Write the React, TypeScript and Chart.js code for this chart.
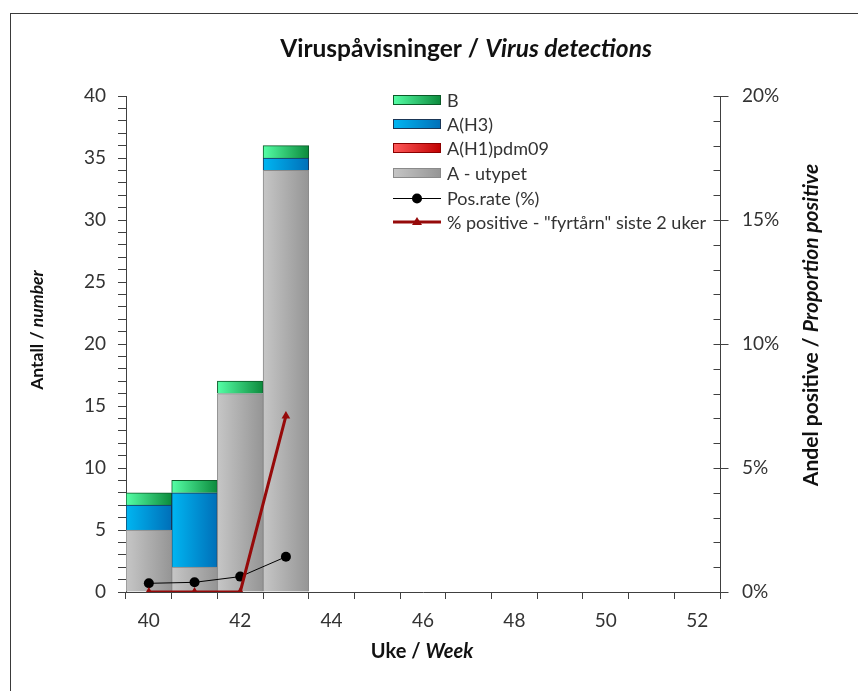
import React, { useEffect, useRef } from 'react';
import { Chart, registerables } from 'chart.js';

Chart.register(...registerables);

// ---- data ----
const weeks = ['40', '41', '42', '43', '44', '45', '46', '47', '48', '49', '50', '51', '52'];
const aUtypet = [5, 2, 16, 34, null, null, null, null, null, null, null, null, null];
const aH1pdm09 = [0, 0, 0, 0, null, null, null, null, null, null, null, null, null];
const aH3 = [2, 6, 0, 1, null, null, null, null, null, null, null, null, null];
const bVals = [1, 1, 1, 1, null, null, null, null, null, null, null, null, null];
const posRate = [0.35, 0.39, 0.62, 1.42, null, null, null, null, null, null, null, null, null];
const fyrtarn = [0, 0, 0, 7.1, null, null, null, null, null, null, null, null, null];

const seriesLabels = ['A - utypet', 'A(H1)pdm09', 'A(H3)', 'B', 'Pos.rate (%)', '% positive - "fyrtårn" siste 2 uker'];
const legendOrder = [3, 2, 1, 0, 4, 5];

const titleParts = [
  { text: 'Viruspåvisninger / ', italic: false },
  { text: 'Virus detections', italic: true },
];
const xTitleParts = [
  { text: 'Uke / ', italic: false },
  { text: 'Week', italic: true },
];
const yTitleParts = [
  { text: 'Antall / ', italic: false },
  { text: 'number', italic: true },
];
const y1TitleParts = [
  { text: 'Andel positive / ', italic: false },
  { text: 'Proportion positive', italic: true },
];

// ---- styles ----
const FONT = 'Lato, "Noto Sans", sans-serif';
const AXIS_COLOR = '#404040';
const TEXT_COLOR = '#333333';
const barStyles = [
  { light: '#c6c6c6', dark: '#959595', border: '#8a8a8a' },
  { light: '#ff5a5a', dark: '#c00000', border: '#8b0000' },
  { light: '#00b6f2', dark: '#006fb8', border: '#1a3656' },
  { light: '#55ffa6', dark: '#0c8a3c', border: '#0b5a28' },
];
const LINE_BLACK = '#000000';
const LINE_RED = '#960a0a';

function gradFor(light: string, dark: string) {
  return (ctx: any) => {
    const chart = ctx.chart;
    const xs = chart.scales && chart.scales.x;
    if (!xs || ctx.dataIndex == null || !isFinite(xs.left)) return dark;
    const c = xs.getPixelForValue(ctx.dataIndex);
    const w = (xs.right - xs.left) / weeks.length;
    const g = chart.ctx.createLinearGradient(c - w / 2, 0, c + w / 2, 0);
    g.addColorStop(0, light);
    g.addColorStop(1, dark);
    return g;
  };
}

function drawMixed(ctx: CanvasRenderingContext2D, parts: { text: string; italic: boolean }[], cx: number, y: number, size: number) {
  const fonts = parts.map((p) => `${p.italic ? 'italic ' : ''}bold ${size}px ${FONT}`);
  let total = 0;
  const widths = parts.map((p, i) => {
    ctx.font = fonts[i];
    const w = ctx.measureText(p.text).width;
    total += w;
    return w;
  });
  let x = cx - total / 2;
  ctx.textAlign = 'left';
  ctx.textBaseline = 'alphabetic';
  parts.forEach((p, i) => {
    ctx.font = fonts[i];
    ctx.fillText(p.text, x, y);
    x += widths[i];
  });
}

const decorPlugin = {
  id: 'decor',
  beforeDraw(chart: any) {
    const ctx = chart.ctx;
    ctx.save();
    ctx.fillStyle = '#ffffff';
    ctx.fillRect(0, 0, chart.width, chart.height);
    ctx.strokeStyle = '#3a3a3a';
    ctx.lineWidth = 1;
    ctx.strokeRect(10.5, 13.5, chart.width + 20, chart.height + 20);
    ctx.restore();
  },
  afterDraw(chart: any) {
    const ctx = chart.ctx;
    ctx.save();
    // right axis ticks (minor inside, major crossing)
    const y1 = chart.scales.y1;
    const ax = Math.round(y1.left) + 0.5;
    ctx.strokeStyle = AXIS_COLOR;
    ctx.lineWidth = 1;
    for (let v = 0; v <= 20; v++) {
      const py = Math.round(y1.getPixelForValue(v)) + 0.5;
      ctx.beginPath();
      ctx.moveTo(ax - 7, py);
      ctx.lineTo(v % 5 === 0 ? ax + 8 : ax, py);
      ctx.stroke();
    }

    ctx.fillStyle = '#111111';
    drawMixed(ctx, titleParts, 466, 57, 24.5);
    drawMixed(ctx, xTitleParts, 422, 658, 20);

    ctx.save();
    ctx.translate(43, 330);
    ctx.rotate(-Math.PI / 2);
    drawMixed(ctx, yTitleParts, 0, 0, 17.5);
    ctx.restore();

    ctx.save();
    ctx.translate(818, 325);
    ctx.rotate(-Math.PI / 2);
    drawMixed(ctx, y1TitleParts, 0, 0, 21);
    ctx.restore();

    // legend
    const lx = 393;
    const sw = 48;
    const tx = 447;
    const rowY = [100, 124, 148, 173, 198, 222];
    ctx.font = `18px ${FONT}`;
    ctx.textAlign = 'left';
    ctx.textBaseline = 'middle';
    legendOrder.forEach((di, row) => {
      const y = rowY[row];
      if (di < 4) {
        const st = barStyles[di];
        const g = ctx.createLinearGradient(lx, 0, lx + sw, 0);
        g.addColorStop(0, st.light);
        g.addColorStop(1, st.dark);
        ctx.fillStyle = g;
        ctx.fillRect(lx, y - 5, sw, 10);
        ctx.strokeStyle = st.border;
        ctx.lineWidth = 1;
        ctx.strokeRect(lx + 0.5, y - 4.5, sw - 1, 9);
      } else if (di === 4) {
        ctx.strokeStyle = LINE_BLACK;
        ctx.lineWidth = 1;
        ctx.beginPath();
        ctx.moveTo(lx, y + 0.5);
        ctx.lineTo(lx + sw, y + 0.5);
        ctx.stroke();
        ctx.fillStyle = LINE_BLACK;
        ctx.beginPath();
        ctx.arc(lx + sw / 2, y + 0.5, 5, 0, Math.PI * 2);
        ctx.fill();
      } else {
        ctx.strokeStyle = LINE_RED;
        ctx.lineWidth = 3;
        ctx.beginPath();
        ctx.moveTo(lx, y);
        ctx.lineTo(lx + sw, y);
        ctx.stroke();
        ctx.fillStyle = LINE_RED;
        const cx = lx + sw / 2;
        ctx.beginPath();
        ctx.moveTo(cx, y - 5);
        ctx.lineTo(cx + 5, y + 3);
        ctx.lineTo(cx - 5, y + 3);
        ctx.closePath();
        ctx.fill();
      }
      ctx.fillStyle = TEXT_COLOR;
      ctx.fillText(seriesLabels[di], tx, y + 1);
    });
    ctx.restore();
  },
};

export default function App() {
  const ref = useRef<HTMLCanvasElement | null>(null);

  useEffect(() => {
    if (!ref.current) return;
    const barValues = [aUtypet, aH1pdm09, aH3, bVals];
    const barDatasets = barValues.map((vals, i) => ({
      type: 'bar' as const,
      label: seriesLabels[i],
      data: vals,
      yAxisID: 'y',
      stack: 'virus',
      order: 2,
      backgroundColor: gradFor(barStyles[i].light, barStyles[i].dark),
      borderColor: barStyles[i].border,
      borderWidth: 1,
      barPercentage: 1,
      categoryPercentage: 1,
    }));
    const lineDatasets = [
      {
        type: 'line' as const,
        label: seriesLabels[4],
        data: posRate,
        yAxisID: 'y1',
        order: 1,
        borderColor: LINE_BLACK,
        backgroundColor: LINE_BLACK,
        borderWidth: 1,
        pointRadius: 5,
        pointStyle: 'circle',
        pointBorderWidth: 0,
        tension: 0,
        spanGaps: false,
      },
      {
        type: 'line' as const,
        label: seriesLabels[5],
        data: fyrtarn,
        yAxisID: 'y1',
        order: 0,
        borderColor: LINE_RED,
        backgroundColor: LINE_RED,
        borderWidth: 3,
        pointRadius: 5,
        pointStyle: 'triangle',
        pointBorderWidth: 0,
        tension: 0,
        spanGaps: false,
      },
    ];

    const chart = new Chart(ref.current, {
      type: 'bar',
      data: {
        labels: weeks,
        datasets: [...barDatasets, ...lineDatasets] as any,
      },
      options: {
        responsive: false,
        animation: false,
        events: [],
        devicePixelRatio: 1,
        layout: { padding: { top: 96, left: 0, right: 0, bottom: 0 } },
        plugins: {
          legend: { display: false },
          title: { display: false },
          tooltip: { enabled: false },
        },
        scales: {
          x: {
            stacked: true,
            offset: true,
            afterFit: (s: any) => { s.height = 99; },
            grid: {
              offset: true,
              drawOnChartArea: false,
              drawTicks: true,
              tickLength: 7,
              color: AXIS_COLOR,
            },
            border: { display: true, color: AXIS_COLOR, width: 1 },
            ticks: {
              autoSkip: false,
              maxRotation: 0,
              padding: 10,
              color: TEXT_COLOR,
              font: { family: FONT, size: 19 },
              callback: (_v: any, idx: number) => (Number(weeks[idx]) % 2 === 0 ? weeks[idx] : ''),
            },
          },
          y: {
            position: 'left',
            stacked: true,
            min: 0,
            max: 40,
            afterFit: (s: any) => { s.width = 126; },
            grid: {
              drawOnChartArea: false,
              drawTicks: true,
              tickLength: 8,
              color: AXIS_COLOR,
            },
            border: { display: true, color: AXIS_COLOR, width: 1 },
            ticks: {
              stepSize: 1,
              autoSkip: false,
              padding: 12,
              color: TEXT_COLOR,
              font: { family: FONT, size: 19 },
              callback: (v: any) => (Number(v) % 5 === 0 ? String(v) : ''),
            },
          },
          y1: {
            position: 'right',
            stacked: false,
            min: 0,
            max: 20,
            afterFit: (s: any) => { s.width = 138; },
            grid: {
              drawOnChartArea: false,
              drawTicks: false,
            },
            border: { display: true, color: AXIS_COLOR, width: 1 },
            ticks: {
              stepSize: 1,
              autoSkip: false,
              padding: 22,
              color: TEXT_COLOR,
              font: { family: FONT, size: 19 },
              callback: (v: any) => (Number(v) % 5 === 0 ? `${v}%` : ''),
            },
          },
        },
      } as any,
      plugins: [decorPlugin],
    });
    return () => chart.destroy();
  }, []);

  return (
    <div style={{ position: 'fixed', left: 0, top: 0, width: 858, height: 691, background: '#fff' }}>
      <canvas ref={ref} width={858} height={691} style={{ display: 'block', width: 858, height: 691 }} />
    </div>
  );
}
